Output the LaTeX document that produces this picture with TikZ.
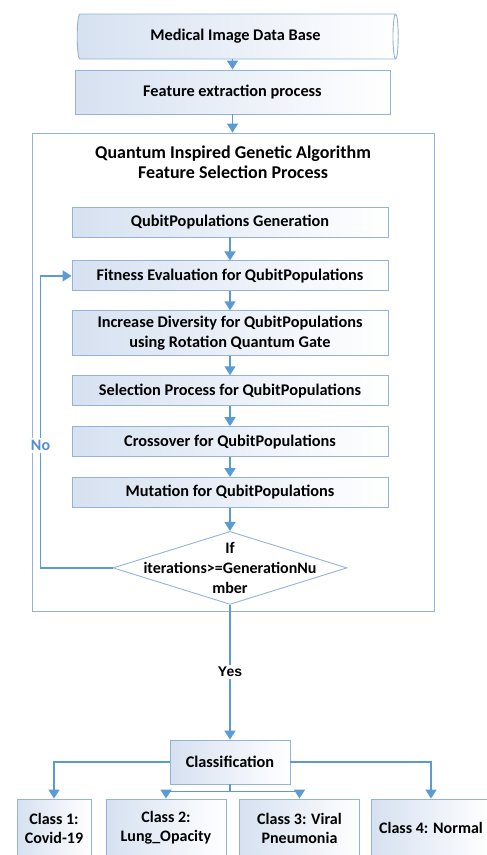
\documentclass[tikz,border=0pt]{standalone}
\usepackage{fontspec}
\setmainfont{Carlito}
\newfontfamily\yesfont{Liberation Sans}
\usepackage{tikz}
\usetikzlibrary{shapes,arrows.meta,positioning,calc}
\definecolor{qgablue}{RGB}{91,155,213}
\definecolor{qgaedge}{RGB}{149,179,215}
\definecolor{qgafill}{RGB}{214,225,241}
\definecolor{qgano}{RGB}{84,141,212}
\tikzset{
    block/.style={rectangle, draw=qgaedge, line width=0.9pt, left color=qgafill, right color=white, align=center, minimum width=316pt, minimum height=30pt, font=\bfseries\fontsize{16.3}{20}\selectfont},
    store/.style={cylinder, draw=qgaedge, line width=0.9pt, left color=qgafill, right color=white, shape aspect=0.25, minimum height=321pt, minimum width=45pt, font=\bfseries\fontsize{16.3}{20}\selectfont},
    frame/.style={rectangle, draw=qgaedge, line width=0.9pt, minimum width=402pt, minimum height=478pt},
    title/.style={align=center, font=\bfseries\fontsize{18}{20}\selectfont},
    decision/.style={diamond, draw=qgaedge, line width=0.9pt, fill=white, minimum width=234pt, minimum height=73pt, inner sep=0pt},
    classbox/.style={block, minimum width=120pt, minimum height=58pt, font=\bfseries\fontsize{16}{19}\selectfont},
    line/.style={draw=qgablue, line width=1.5pt, -{Triangle[width=11pt,length=9pt]}},
    yes/.style={fill=white, inner sep=2pt, font=\yesfont\bfseries\fontsize{14}{16}\selectfont},
    notext/.style={fill=white, inner sep=2pt, text=qgano, font=\bfseries\fontsize{16}{18}\selectfont}
}
\begin{document}
\begin{tikzpicture}[x=1pt, y=-1pt, node distance=20pt]
    \useasboundingbox (0,0) rectangle (487,855);
    \clip (0,0) rectangle (487,855);

    % Data base and feature extraction
    \node [store] (db) at (235.5,36.5) {Medical Image Data Base};
    \node [block, minimum width=315pt, minimum height=44pt] (feat) at (232.5,92) {Feature extraction process};

    % Feature selection frame
    \node [frame] (qga) at (233,372) {};
    \node [title] (qgatitle) at (233,162) {Quantum Inspired Genetic Algorithm\\Feature Selection Process};

    % QIGA steps
    \node [block] (gen) at (230,222) {QubitPopulations Generation};
    \node [block, below=23pt of gen] (fit) {Fitness Evaluation for QubitPopulations};
    \node [block, below=19pt of fit, minimum height=45pt] (div) {Increase Diversity for QubitPopulations\\using Rotation Quantum Gate};
    \node [block, below=19pt of div] (sel) {Selection Process for QubitPopulations};
    \node [block, below=20pt of sel] (cross) {Crossover for QubitPopulations};
    \node [block, below=20pt of cross] (mut) {Mutation for QubitPopulations};
    \node [decision, below=23pt of mut, label={[align=center, font=\bfseries\fontsize{16}{20}\selectfont]center:If\\iterations>=GenerationNu\\mber}] (dia) {};
    \coordinate (back) at ([xshift=-72pt]dia.west);

    % Classification
    \node [block, minimum width=120pt, minimum height=44pt] (cls) at (230,762) {Classification};
    \node [classbox, minimum width=74pt] (c1) at (54,828) {Class 1:\\Covid-19};
    \node [classbox] (c2) at (166,828) {Class 2:\\Lung\_Opacity};
    \node [classbox] (c3) at (299.5,828) {Class 3: Viral\\Pneumonia};
    \node [classbox] (c4) at (431,828) {Class 4: Normal};
    \coordinate (split) at ([yshift=-7pt]cls.south);

    % Flow
    \path [line] (feat.north |- db.south) -- (feat.north);
    \path [line] (feat.south) -- (feat.south |- qga.north);
    \path [line] (gen) -- (fit);
    \path [line] (fit) -- (div);
    \path [line] (div) -- (sel);
    \path [line] (sel) -- (cross);
    \path [line] (cross) -- (mut);
    \path [line] (mut) -- (dia);
    \path [line] (dia.west) -- (back) |- node [pos=0.21, notext] {No} (fit.west);
    \path [line] (dia.south) -- node [yes] {Yes} (cls.north);

    % Class connections
    \path [line] (cls.west) -| (c1.north);
    \path [line] (cls.east) -| (c4.north);
    \draw [qgablue, line width=1.5pt] (cls.south) -- (split);
    \path [line] (split) -| (c2.north);
    \path [line] (split) -| (c3.north);
\end{tikzpicture}
\end{document}
